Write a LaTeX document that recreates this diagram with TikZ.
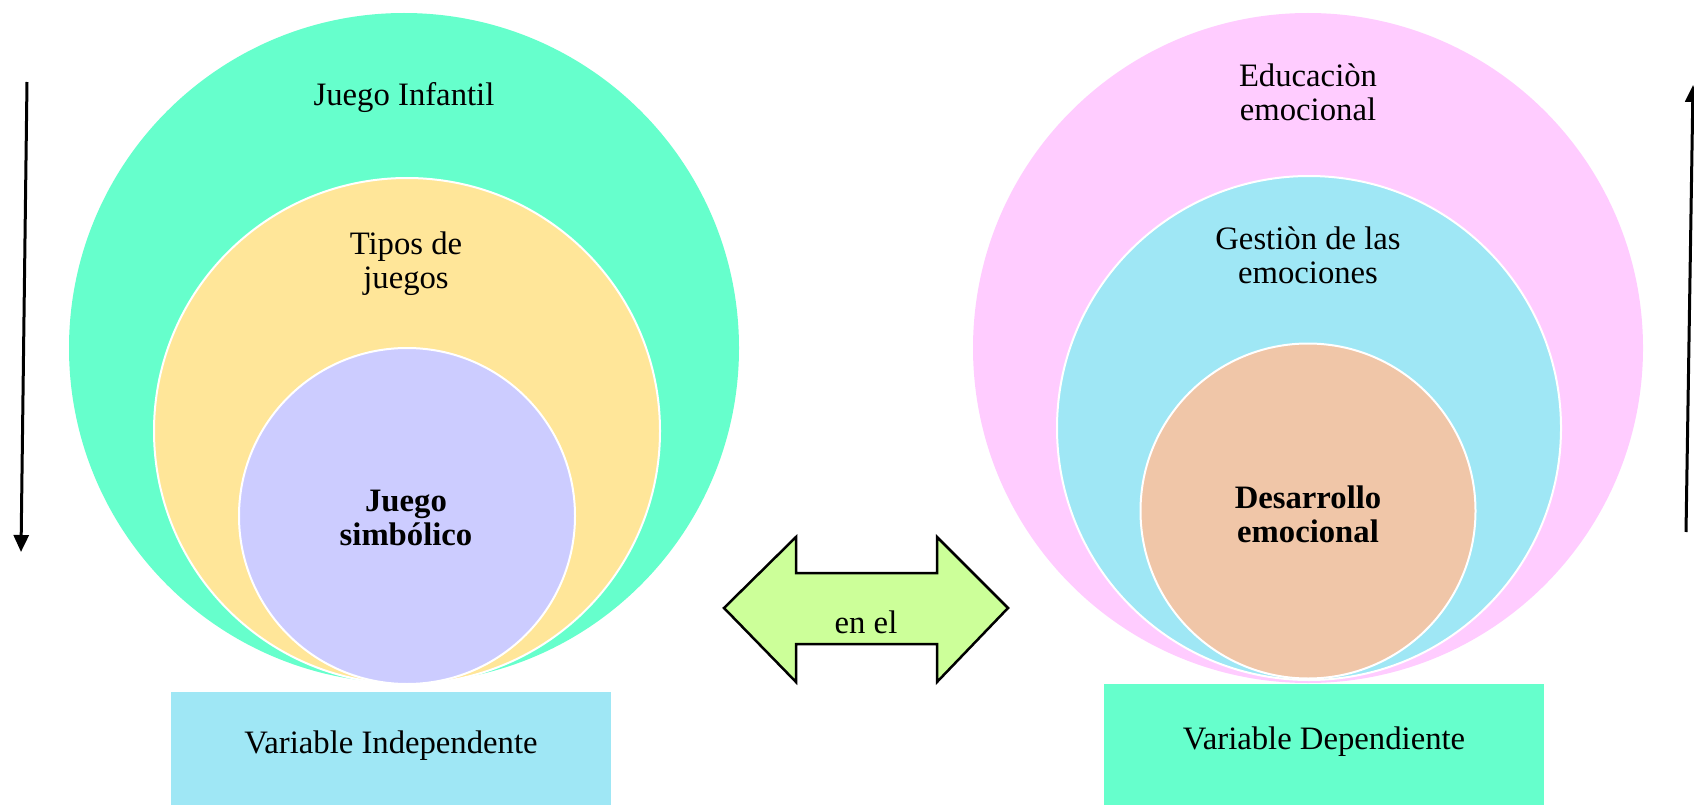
\documentclass[tikz,border=0pt]{standalone}
\usepackage{fontspec}
\setmainfont{Liberation Serif}
\usetikzlibrary{arrows.meta}
\definecolor{cgreen}{HTML}{66FFCC}
\definecolor{cyellow}{HTML}{FFE699}
\definecolor{cpurple}{HTML}{CCCCFF}
\definecolor{cpink}{HTML}{FFCCFF}
\definecolor{cblue}{HTML}{9FE7F5}
\definecolor{cpeach}{HTML}{F0C6A8}
\definecolor{carrow}{HTML}{CCFF99}
\begin{document}
\begin{tikzpicture}[x=1pt,y=-1pt,
  ring/.style={circle, draw=white, line width=2pt, inner sep=0pt},
  lbl/.style={align=center, font=\fontsize{32.7}{34}\selectfont},
  blbl/.style={align=center, font=\fontsize{32.7}{34}\selectfont\bfseries},
  vert/.style={line width=3pt, -{Triangle[width=15pt,length=17pt]}}]
\useasboundingbox (0,0) rectangle (1694,805);
% left circles
\node[ring, draw=none, fill=cgreen, minimum size=670pt] (oL) at (404,348) {};
\node[ring, fill=cyellow, minimum size=506pt] (mL) at (407,431) {};
\node[ring, fill=cpurple, minimum size=336pt] (iL) at (407,516) {};
\node[lbl] (tL1) at (404,98) {Juego Infantil};
\node[lbl] (tL2) at (406,264) {Tipos de\\juegos};
\node[blbl] (tL3) at (406,518) {Juego\\simbólico};
% right circles
\node[ring, draw=none, fill=cpink, minimum size=670pt] (oR) at (1308,348) {};
\node[ring, fill=cblue, minimum size=504pt] (mR) at (1309,428) {};
\node[ring, fill=cpeach, minimum size=335pt] (iR) at (1308,511) {};
\node[lbl] (tR1) at (1308,92) {Educaciòn\\emocional};
\node[lbl] (tR2) at (1308,255) {Gestiòn de las\\emociones};
\node[blbl] (tR3) at (1308,514) {Desarrollo\\emocional};
% boxes
\fill[cblue] (171,692) rectangle (611,805);
\node[lbl] (vI) at (391,746) {Variable Independente};
\fill[cgreen] (1104,684) rectangle (1544,805);
\node[lbl] (vD) at (1324,742) {Variable Dependiente};
% double arrow
\draw[fill=carrow, line width=2.5pt, line join=miter]
  (724,608) -- (796,537) -- (796,573) -- (937,573) -- (937,537) -- (1008,608)
  -- (937,682) -- (937,644) -- (796,644) -- (796,682) -- cycle;
\node[lbl] (enel) at (866,622) {en el};
% vertical arrows
\coordinate (aTop) at (27,82);
\coordinate (aBot) at (21,552);
\draw[vert] (aTop) -- (aBot);
\coordinate (bBot) at (1686,532);
\coordinate (bTop) at (1693,85);
\draw[vert] (bBot) -- (bTop);
\end{tikzpicture}
\end{document}
